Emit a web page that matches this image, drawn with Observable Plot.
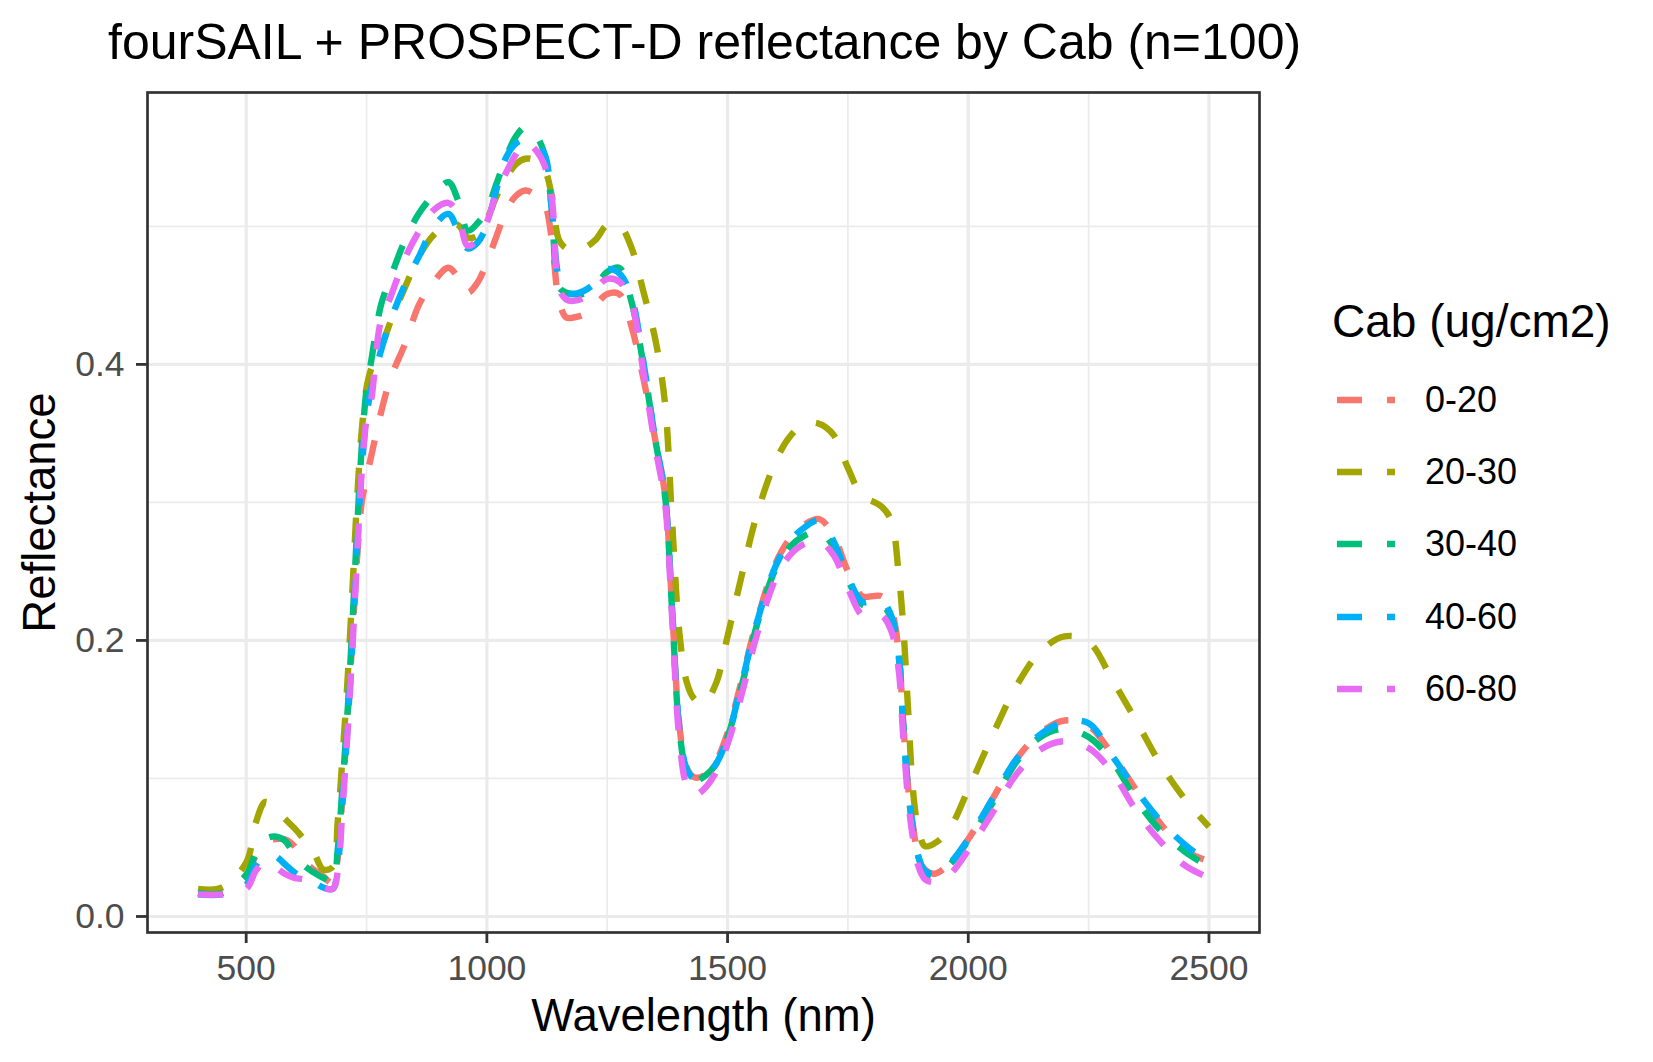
<!DOCTYPE html>
<html>
<head>
<meta charset="utf-8">
<script src="https://cdn.jsdelivr.net/npm/d3@7"></script>
<script src="https://cdn.jsdelivr.net/npm/@observablehq/plot@0.6"></script>
<style>
  body { margin: 0; background: #ffffff; font-family: "Liberation Sans", Arial, Helvetica, sans-serif; }
  #wrap { position: relative; width: 1653px; height: 1062px; overflow: hidden; background: #fff; }
  #title { position: absolute; left: 108px; top: 17px; text-align: left;
           font-size: 50px; line-height: 50px; white-space: nowrap; color: #000; }
  #chart { position: absolute; left: 0; top: 80px; }
  #legend { position: absolute; left: 1332px; top: 298px; }
  #legend .ltitle { font-size: 46px; line-height: 46px; color: #000; white-space: nowrap; height: 65.9px; }
  #legend .row { display: flex; align-items: center; height: 72.2px; margin-left: 5px; }
  #legend .row span { font-size: 36px; line-height: 36px; color: #000; margin-left: 30px; }
</style>
</head>
<body>
<div id="wrap">
  <div id="title">fourSAIL + PROSPECT-D reflectance by Cab (n=100)</div>
  <div id="chart"></div>
  <div id="legend"></div>
</div>
<script>
// ---------- data ----------
const groups = ["0-20", "20-30", "30-40", "40-60", "60-80"];
const colors = ["#F8766D", "#A3A500", "#00BF7D", "#00B0F6", "#E76BF3"];
const legendTitle = "Cab (ug/cm2)";

const wavelengths = [400, 450, 500, 520, 540, 560, 580, 600, 620, 640, 660, 680,
  690, 700, 710, 720, 730, 740, 750, 760,
  780, 800, 830, 860, 890, 920, 940, 960, 980, 1000,
  1020, 1040, 1060, 1080, 1100, 1120, 1135, 1150, 1165, 1180,
  1200, 1225, 1250, 1275, 1300, 1325, 1350, 1370, 1385, 1400,
  1415, 1430, 1450, 1475, 1500, 1530, 1560, 1600, 1630, 1660,
  1690, 1720, 1750, 1780, 1800, 1820, 1840, 1855, 1865, 1875,
  1885, 1895, 1910, 1930, 1960, 2000, 2050, 2100, 2150, 2200,
  2250, 2300, 2350, 2400, 2450, 2500];

const cab0_20 = [0.017, 0.017, 0.030, 0.044, 0.053, 0.056, 0.056, 0.051, 0.040, 0.034, 0.029, 0.024,
  0.042, 0.088, 0.140, 0.198, 0.258, 0.300, 0.318, 0.334,
  0.365, 0.390, 0.415, 0.444, 0.460, 0.470, 0.463, 0.452, 0.459, 0.474,
  0.493, 0.511, 0.522, 0.526, 0.523, 0.516, 0.490, 0.446, 0.434, 0.434,
  0.436, 0.443, 0.451, 0.451, 0.428, 0.390, 0.345, 0.306, 0.222, 0.138,
  0.108, 0.101, 0.102, 0.112, 0.133, 0.172, 0.213, 0.256, 0.274, 0.284,
  0.288, 0.276, 0.250, 0.232, 0.232, 0.232, 0.222, 0.193, 0.140, 0.094,
  0.066, 0.046, 0.034, 0.031, 0.038, 0.056, 0.085, 0.114, 0.133, 0.142,
  0.138, 0.117, 0.091, 0.067, 0.048, 0.040];

const cab20_30 = [0.020, 0.021, 0.039, 0.068, 0.083, 0.078, 0.071, 0.064, 0.056, 0.047, 0.034, 0.036,
  0.068, 0.115, 0.168, 0.232, 0.300, 0.352, 0.383, 0.397,
  0.412, 0.431, 0.456, 0.479, 0.494, 0.501, 0.501, 0.492, 0.493, 0.505,
  0.522, 0.535, 0.545, 0.549, 0.548, 0.541, 0.522, 0.490, 0.484, 0.483,
  0.484, 0.490, 0.501, 0.501, 0.485, 0.453, 0.418, 0.372, 0.285, 0.205,
  0.170, 0.158, 0.154, 0.168, 0.203, 0.248, 0.290, 0.330, 0.348, 0.357,
  0.357, 0.349, 0.325, 0.304, 0.301, 0.297, 0.287, 0.250, 0.210, 0.150,
  0.092, 0.066, 0.051, 0.053, 0.063, 0.092, 0.131, 0.167, 0.192, 0.203,
  0.199, 0.171, 0.141, 0.110, 0.085, 0.065];

const cab30_40 = [0.017, 0.017, 0.030, 0.046, 0.056, 0.058, 0.055, 0.045, 0.037, 0.032, 0.028, 0.025,
  0.048, 0.094, 0.145, 0.207, 0.278, 0.340, 0.382, 0.403,
  0.443, 0.463, 0.490, 0.510, 0.523, 0.532, 0.519, 0.497, 0.502, 0.512,
  0.531, 0.550, 0.565, 0.572, 0.567, 0.552, 0.512, 0.456, 0.452, 0.451,
  0.451, 0.457, 0.467, 0.470, 0.446, 0.400, 0.345, 0.305, 0.220, 0.135,
  0.105, 0.098, 0.101, 0.110, 0.130, 0.168, 0.210, 0.252, 0.268, 0.276,
  0.279, 0.268, 0.244, 0.226, 0.225, 0.226, 0.216, 0.190, 0.137, 0.092,
  0.064, 0.045, 0.032, 0.029, 0.037, 0.055, 0.082, 0.112, 0.130, 0.136,
  0.130, 0.112, 0.084, 0.062, 0.047, 0.036];

const cab40_60 = [0.016, 0.016, 0.023, 0.037, 0.045, 0.044, 0.038, 0.032, 0.028, 0.025, 0.021, 0.020,
  0.036, 0.082, 0.135, 0.195, 0.263, 0.325, 0.362, 0.383,
  0.410, 0.432, 0.458, 0.479, 0.500, 0.509, 0.497, 0.484, 0.488, 0.501,
  0.527, 0.550, 0.560, 0.563, 0.560, 0.552, 0.512, 0.462, 0.452, 0.451,
  0.453, 0.459, 0.469, 0.466, 0.449, 0.402, 0.345, 0.305, 0.221, 0.136,
  0.107, 0.100, 0.101, 0.110, 0.130, 0.170, 0.212, 0.254, 0.272, 0.282,
  0.287, 0.272, 0.246, 0.228, 0.229, 0.229, 0.218, 0.191, 0.138, 0.092,
  0.064, 0.045, 0.033, 0.031, 0.038, 0.056, 0.085, 0.114, 0.132, 0.141,
  0.140, 0.116, 0.091, 0.069, 0.052, 0.039];

const cab60_80 = [0.016, 0.016, 0.020, 0.033, 0.040, 0.036, 0.031, 0.028, 0.027, 0.025, 0.021, 0.020,
  0.032, 0.078, 0.130, 0.190, 0.258, 0.322, 0.360, 0.375,
  0.432, 0.449, 0.477, 0.497, 0.512, 0.517, 0.509, 0.486, 0.490, 0.503,
  0.524, 0.539, 0.552, 0.561, 0.556, 0.544, 0.520, 0.455, 0.447, 0.446,
  0.448, 0.455, 0.462, 0.460, 0.445, 0.395, 0.340, 0.300, 0.215, 0.128,
  0.095, 0.088, 0.092, 0.104, 0.125, 0.162, 0.203, 0.245, 0.262, 0.270,
  0.272, 0.262, 0.238, 0.218, 0.217, 0.218, 0.207, 0.180, 0.130, 0.085,
  0.057, 0.038, 0.027, 0.025, 0.030, 0.048, 0.075, 0.103, 0.121, 0.127,
  0.122, 0.104, 0.076, 0.054, 0.037, 0.028];

const xTicks = [500, 1000, 1500, 2000, 2500];
const xMinor = [750, 1250, 1750, 2250];
const yTicks = [0.0, 0.2, 0.4];
const yMinor = [0.1, 0.3, 0.5];

// ---------- build table ----------
const seriesValues = [cab0_20, cab20_30, cab30_40, cab40_60, cab60_80];
const rows = [];
groups.forEach((g, gi) => {
  wavelengths.forEach((w, i) => rows.push({ wl: w, refl: seriesValues[gi][i], cab: g }));
});

const font = '"Liberation Sans", Arial, Helvetica, sans-serif';
const gridColor = "#ebebeb";

const chart = Plot.plot({
  width: 1300,
  height: 982,
  marginLeft: 147,
  marginRight: 41,
  marginTop: 12,
  marginBottom: 130,
  style: { fontFamily: font, background: "#ffffff", overflow: "visible" },
  x: { domain: [295, 2605] },
  y: { domain: [-0.0116, 0.597] },
  color: { domain: groups, range: colors },
  marks: [
    Plot.gridX(xMinor, { stroke: gridColor, strokeOpacity: 1, strokeWidth: 1.7 }),
    Plot.gridY(yMinor, { stroke: gridColor, strokeOpacity: 1, strokeWidth: 1.7 }),
    Plot.gridX(xTicks, { stroke: gridColor, strokeOpacity: 1, strokeWidth: 3.2 }),
    Plot.gridY(yTicks, { stroke: gridColor, strokeOpacity: 1, strokeWidth: 3.2 }),
    Plot.line(rows, {
      x: "wl", y: "refl", z: "cab", stroke: "cab",
      strokeWidth: 6.4, strokeDasharray: "25,25", strokeLinecap: "butt",
      strokeLinejoin: "round", curve: "catmull-rom"
    }),
    Plot.frame({ stroke: "#333333", strokeWidth: 2.7 }),
    Plot.axisX(xTicks, {
      tickSize: 11, tickPadding: 11, fontSize: 35.5, fill: "#4d4d4d", stroke: "#333333",
      strokeWidth: 2.8, label: null, tickFormat: d => String(d)
    }),
    Plot.axisY(yTicks, {
      tickSize: 11, tickPadding: 12, fontSize: 35.5, fill: "#4d4d4d", stroke: "#333333",
      strokeWidth: 2.8, label: null, tickFormat: d3.format(".1f")
    }),
    Plot.text(["Wavelength (nm)"], {
      text: d => d, frameAnchor: "bottom", lineAnchor: "middle", textAnchor: "middle", dy: 83.5,
      fontSize: 45.5, fill: "#000000"
    }),
    Plot.text(["Reflectance"], {
      text: d => d, frameAnchor: "left", lineAnchor: "middle", textAnchor: "middle", rotate: -90, dx: -107,
      fontSize: 45.5, fill: "#000000"
    })
  ]
});
document.getElementById("chart").appendChild(chart);

// ---------- legend ----------
const legend = document.getElementById("legend");
const lt = document.createElement("div");
lt.className = "ltitle";
lt.textContent = legendTitle;
legend.appendChild(lt);
groups.forEach((g, i) => {
  const row = document.createElement("div");
  row.className = "row";
  const ns = "http://www.w3.org/2000/svg";
  const svg = document.createElementNS(ns, "svg");
  svg.setAttribute("width", "58");
  svg.setAttribute("height", "20");
  const ln = document.createElementNS(ns, "line");
  ln.setAttribute("x1", "0"); ln.setAttribute("x2", "58");
  ln.setAttribute("y1", "10"); ln.setAttribute("y2", "10");
  ln.setAttribute("stroke", colors[i]);
  ln.setAttribute("stroke-width", "6.5");
  ln.setAttribute("stroke-dasharray", "25,25");
  svg.appendChild(ln);
  row.appendChild(svg);
  const sp = document.createElement("span");
  sp.textContent = g;
  row.appendChild(sp);
  legend.appendChild(row);
});
</script>
</body>
</html>
